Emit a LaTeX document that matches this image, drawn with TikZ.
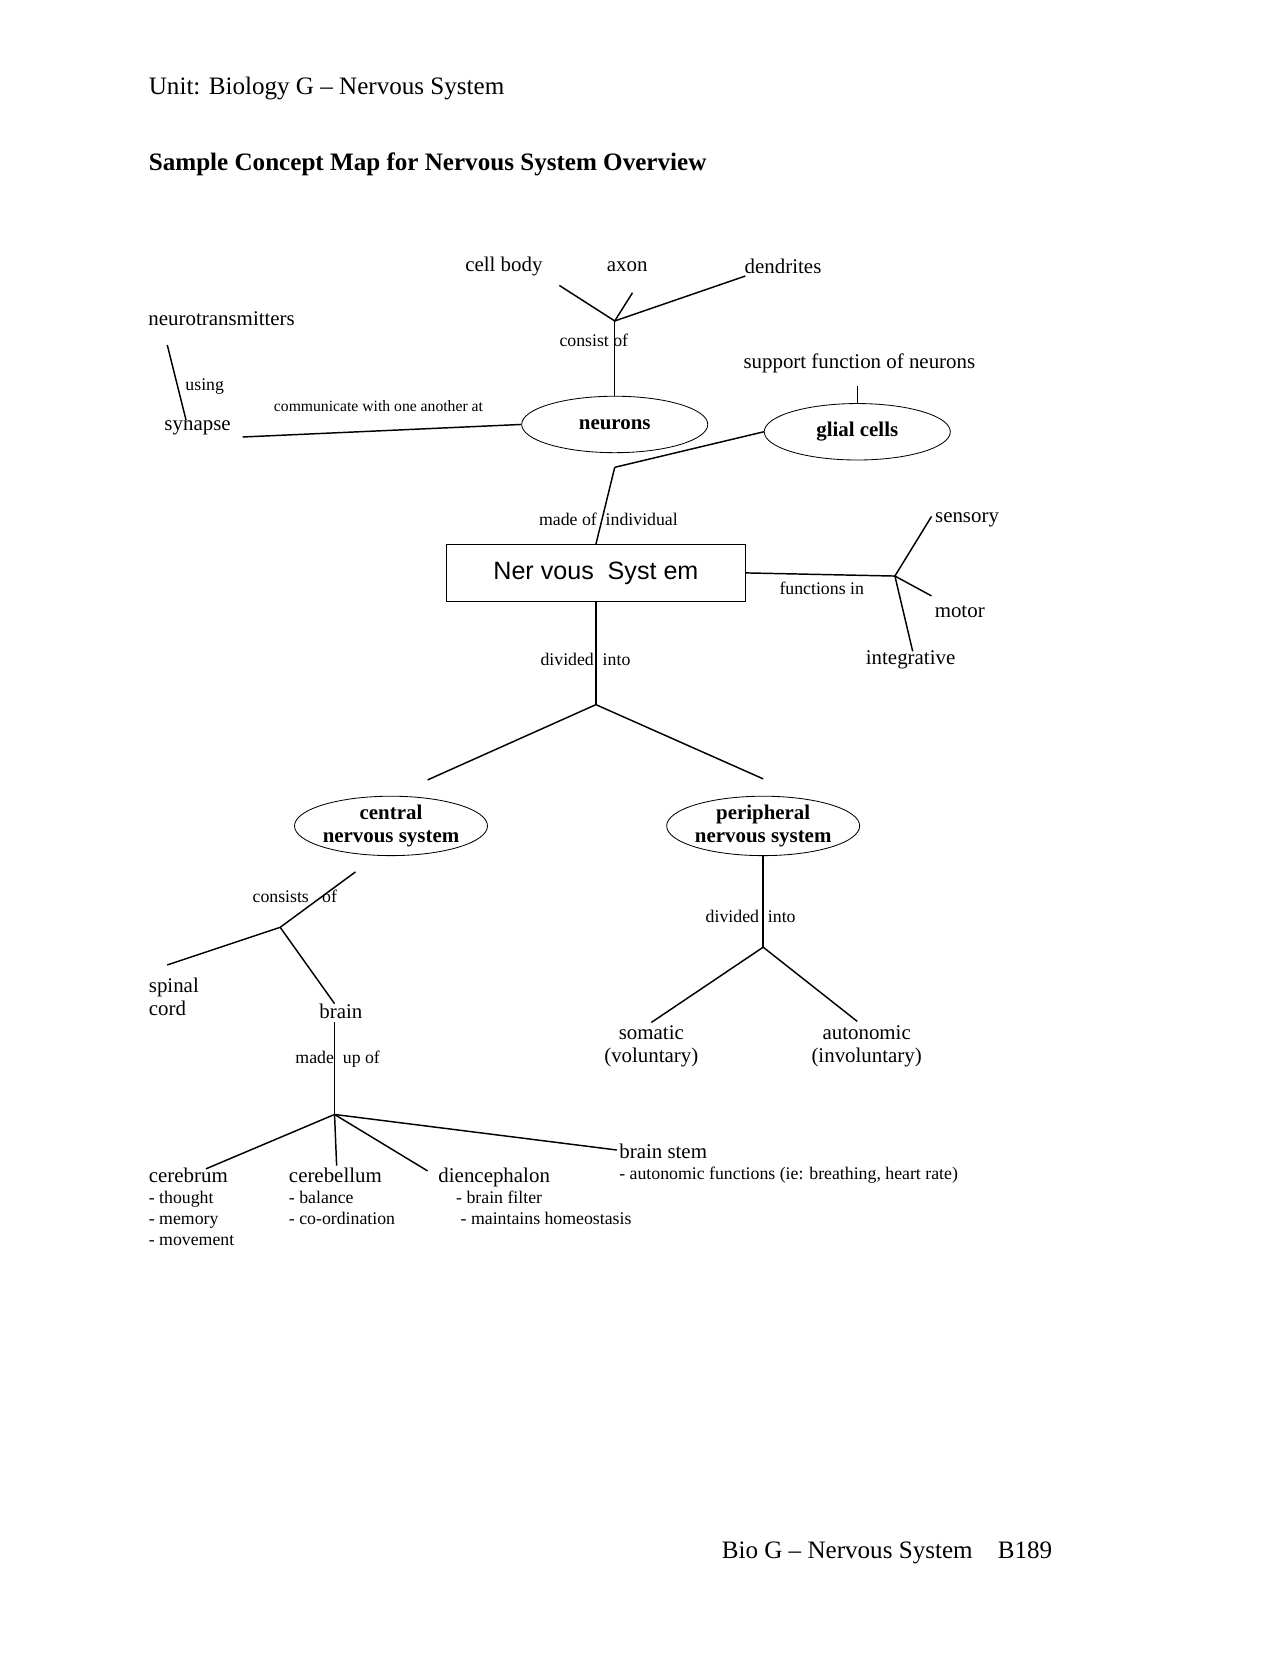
\documentclass[tikz,border=0pt]{standalone}
\usepackage{fontspec}
\setmainfont{Liberation Serif}
\setsansfont{Liberation Sans}
\usetikzlibrary{shapes.geometric}
\begin{document}
\begin{tikzpicture}[x=0.5pt,y=-0.5pt,
 t/.style={font=\fontsize{10}{11}\selectfont,inner sep=0pt,align=left},
 l/.style={font=\fontsize{8.5}{9}\selectfont,inner sep=0pt},
 el/.style={draw,ellipse,minimum width=89pt,minimum height=27pt,inner sep=0pt,font=\bfseries\fontsize{10}{11}\selectfont,align=center},
 ln/.style={line width=0.7pt}]
\useasboundingbox (0,0) rectangle (1224,1584);
\node[anchor=west,inner sep=0pt,font=\fontsize{12}{14}\selectfont] (unit) at (142,85) {Unit: Biology G -- Nervous System};
\node[anchor=west,inner sep=0pt,font=\bfseries\fontsize{12}{14}\selectfont] (title) at (142,157) {Sample Concept Map for Nervous System Overview};
\node[anchor=west,inner sep=0pt,font=\fontsize{12}{14}\selectfont] (foot) at (690,1485) {Bio G -- Nervous System\quad B189};

% top cluster
\node[t] (cb) at (482,255) {cell body};
\node[t] (axon) at (600,255) {axon};
\node[t] (dend) at (749,255) {dendrites};
\coordinate (j1) at (588,307);
\draw[ln] (535,273) -- (j1) -- (605,280);
\draw[ln] (j1) -- (713,264);
\node[el] (neur) at (588,406) {neurons};
\draw[ln] (j1) -- (neur.north);
\node[l] at (568,326) {consist of};

\node[t] (nt) at (212,305) {neurotransmitters};
\node[t] (syn) at (189,409) {synapse};
\draw[ln] (160,330) -- (178,402);
\node[l,anchor=west] at (177,370) {using};
\draw[ln] (232,418) -- (neur.west);
\node[l,font=\fontsize{7.5}{8}\selectfont] at (362,388) {communicate with one another at};

\node[el] (glial) at (820,413) {glial cells};
\node[t] (sf) at (822,348) {support function of neurons};
\draw[ln] (glial.north) -- (820,369);
\coordinate (j2) at (588,447);
\draw[ln] (j2) -- (glial.west);

\node[draw,minimum width=143pt,minimum height=27pt,inner sep=0pt,font=\sffamily\fontsize{12}{14}\selectfont] (ns) at (570,548) {Ner vous\ \ Syst em};
\draw[ln] (ns.north) -- (j2);
\node[l] at (582,497) {made of\ \ individual};

% functions
\coordinate (j3) at (856,551);
\draw[ln] (ns.east) -- (j3);
\node[l] at (786,563) {functions in};
\draw[ln] (891,494) -- (j3) -- (891,570);
\draw[ln] (j3) -- (873,623);
\node[t] (sens) at (925,497) {sensory};
\node[t] (mot) at (918,585) {motor};
\node[t] (integ) at (871,631) {integrative};

% division
\coordinate (j4) at (570,674);
\draw[ln] (ns.south) -- (j4);
\node[l] at (560,631) {divided\ \ into};
\node[el] (cns) at (374,790) {central\\nervous system};
\node[el] (pns) at (730,790) {peripheral\\nervous system};
\draw[ln] (409,746) -- (j4) -- (730,745);

% CNS
\coordinate (j5) at (268,887);
\draw[ln] (340,834) -- (j5) -- (160,923);
\draw[ln] (j5) -- (320,960);
\node[l] at (282,857) {consists\ \ \ of};
\node[t,anchor=north west] (sc) at (142,935) {spinal\\cord};
\node[t] (brain) at (326,967) {brain};
\coordinate (j6) at (320,1066);
\draw[ln] (320,978) -- (j6);
\node[l] at (323,1013) {made\ \ up of};
\draw[ln] (j6) -- (197,1118);
\draw[ln] (j6) -- (409,1120);
\draw[ln] (j6) -- (590,1100);
\draw[ln] (j6) -- (322,1115);
\node[t,anchor=north west] (cer) at (142,1117) {cerebrum\\[-1pt]{\fontsize{8.5}{10}\selectfont - thought}\\[-1pt]{\fontsize{8.5}{10}\selectfont - memory}\\[-1pt]{\fontsize{8.5}{10}\selectfont - movement}};
\node[t,anchor=north west] (cbl) at (276,1117) {cerebellum\\[-1pt]{\fontsize{8.5}{10}\selectfont - balance}\\[-1pt]{\fontsize{8.5}{10}\selectfont - co-ordination}};
\node[t,anchor=north west] (dien) at (419,1117) {diencephalon\\[-1pt]{\fontsize{8.5}{10}\selectfont \ \ \ \ - brain filter}\\[-1pt]{\fontsize{8.5}{10}\selectfont \ \ \ \ \ - maintains homeostasis}};
\node[t,anchor=north west] (bs) at (592,1094) {brain stem\\[-1pt]{\fontsize{8.5}{10}\selectfont - autonomic functions (ie: breathing, heart rate)}};

% PNS
\coordinate (j7) at (730,906);
\draw[ln] (pns.south) -- (j7);
\node[l] at (718,877) {divided\ \ into};
\draw[ln] (623,978) -- (j7) -- (820,977);
\node[t,align=center] (som) at (623,1001) {somatic\\(voluntary)};
\node[t,align=center] (aut) at (829,1001) {autonomic\\(involuntary)};
\end{tikzpicture}
\end{document}
